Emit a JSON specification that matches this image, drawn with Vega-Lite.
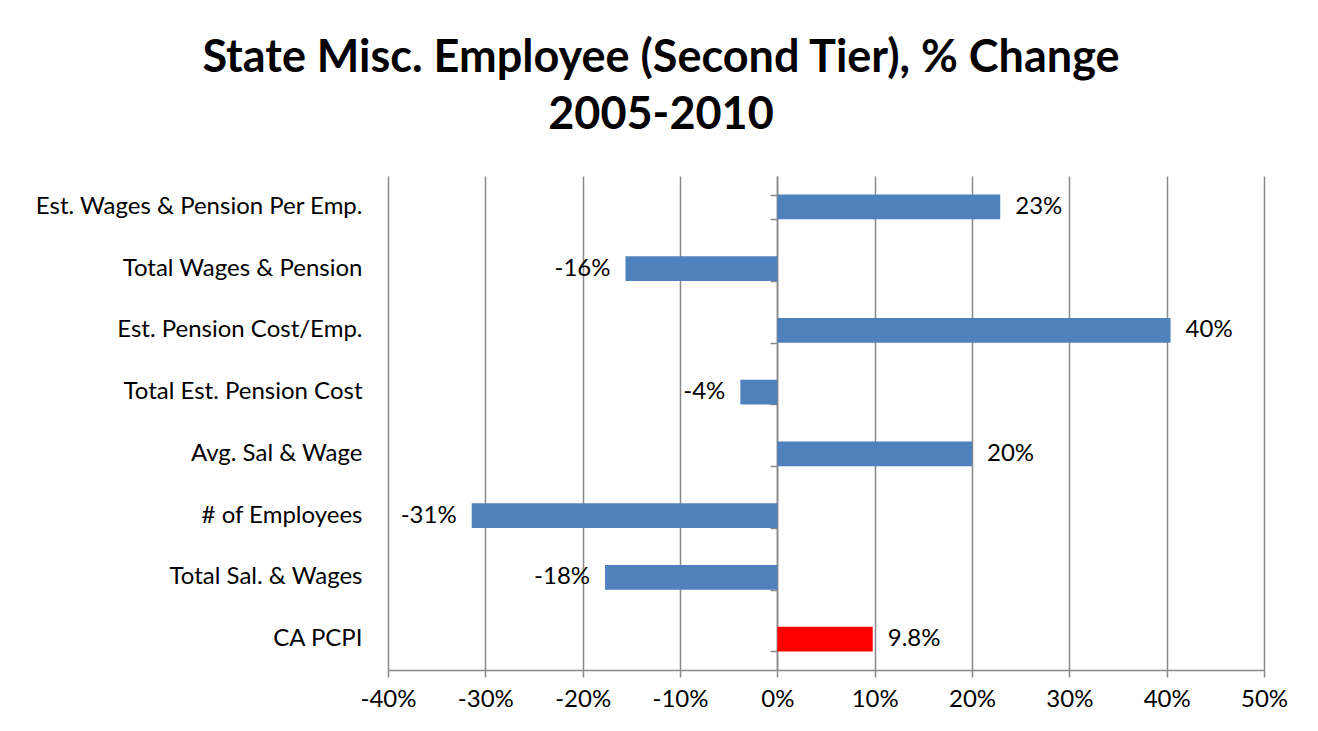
{
  "$schema": "https://vega.github.io/schema/vega-lite/v6.json",
  "width": 876,
  "height": 494,
  "autosize": {"type": "none"},
  "padding": {"left": 388, "top": 176, "right": 54, "bottom": 61},
  "background": "white",
  "title": {
    "text": ["State Misc. Employee (Second Tier), % Change", "2005-2010"],
    "font": "Lato",
    "fontSize": 45,
    "fontWeight": "bold",
    "color": "black",
    "anchor": "middle",
    "dx": -165,
    "offset": 38,
    "lineHeight": 57
  },
  "config": {
    "view": {"stroke": null},
    "font": "Lato"
  },
  "data": {
    "values": [
      {"cat": "Est. Wages & Pension Per Emp.", "pct": 22.9, "label": "23%", "kind": "std"},
      {"cat": "Total Wages & Pension", "pct": -15.6, "label": "-16%", "kind": "std"},
      {"cat": "Est. Pension Cost/Emp.", "pct": 40.4, "label": "40%", "kind": "std"},
      {"cat": "Total Est. Pension Cost", "pct": -3.8, "label": "-4%", "kind": "std"},
      {"cat": "Avg. Sal & Wage", "pct": 20.0, "label": "20%", "kind": "std"},
      {"cat": "# of Employees", "pct": -31.4, "label": "-31%", "kind": "std"},
      {"cat": "Total Sal. & Wages", "pct": -17.7, "label": "-18%", "kind": "std"},
      {"cat": "CA PCPI", "pct": 9.8, "label": "9.8%", "kind": "cpi"}
    ]
  },
  "resolve": {"scale": {"y": "shared"}, "axis": {"y": "independent"}},
  "layer": [
    {
      "mark": {"type": "bar"},
      "encoding": {
        "y": {
          "field": "cat", "type": "nominal", "sort": null,
          "scale": {"paddingInner": 0.6, "paddingOuter": 0.3},
          "axis": {
            "title": null, "domain": false, "ticks": false,
            "labelFont": "Lato", "labelFontSize": 24, "labelColor": "black",
            "labelPadding": 26, "labelLimit": 400
          }
        },
        "x": {
          "field": "pct", "type": "quantitative",
          "scale": {"domain": [-40, 50], "nice": false, "zero": false},
          "axis": {
            "title": null,
            "values": [-40, -30, -20, -10, 0, 10, 20, 30, 40, 50],
            "labelExpr": "datum.value + '%'",
            "labelFlush": false,
            "labelFont": "Lato", "labelFontSize": 24, "labelColor": "black",
            "labelPadding": 10,
            "grid": true, "gridColor": "#888888", "gridWidth": 1.5,
            "domainColor": "#888888", "domainWidth": 1.5,
            "tickColor": "#888888", "tickWidth": 1.5, "tickSize": 7
          }
        },
        "color": {
          "field": "kind", "type": "nominal",
          "scale": {"domain": ["std", "cpi"], "range": ["#4F81BD", "#FF0000"]},
          "legend": null
        }
      }
    },
    {
      "mark": {"type": "rule", "opacity": 0},
      "encoding": {
        "y": {
          "field": "cat", "type": "nominal", "sort": null,
          "axis": {
            "title": null, "labels": false, "orient": "left", "offset": -389,
            "tickBand": "extent", "tickSize": 7,
            "domainColor": "#888888", "domainWidth": 1.5,
            "tickColor": "#888888", "tickWidth": 1.5
          }
        },
        "x": {"datum": 0, "type": "quantitative"}
      }
    },
    {
      "transform": [{"filter": "datum.pct >= 0"}],
      "mark": {"type": "text", "align": "left", "dx": 15, "font": "Lato", "fontSize": 24, "color": "black", "baseline": "middle"},
      "encoding": {
        "y": {"field": "cat", "type": "nominal", "sort": null, "axis": null},
        "x": {"field": "pct", "type": "quantitative"},
        "text": {"field": "label"}
      }
    },
    {
      "transform": [{"filter": "datum.pct < 0"}],
      "mark": {"type": "text", "align": "right", "dx": -15, "font": "Lato", "fontSize": 24, "color": "black", "baseline": "middle"},
      "encoding": {
        "y": {"field": "cat", "type": "nominal", "sort": null, "axis": null},
        "x": {"field": "pct", "type": "quantitative"},
        "text": {"field": "label"}
      }
    }
  ]
}
